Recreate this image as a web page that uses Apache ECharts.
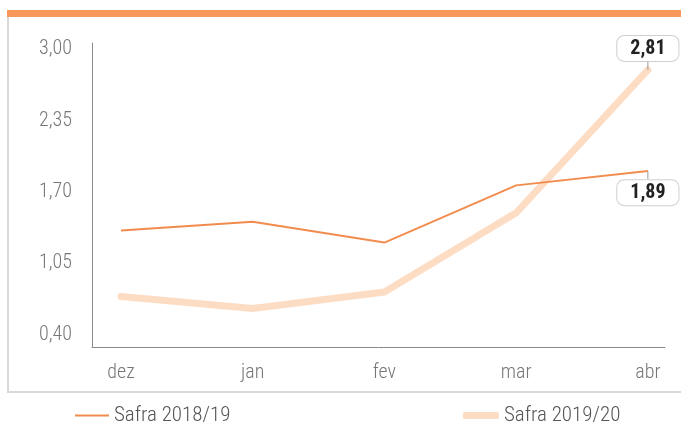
<!DOCTYPE html>
<html>
<head>
<meta charset="utf-8">
<script src="https://cdn.jsdelivr.net/npm/echarts@6/dist/echarts.min.js"></script>
<style>
html, body { margin: 0; padding: 0; background: #fff; }
#chart { width: 681px; height: 424px; }
</style>
</head>
<body>
<div id="chart"></div>
<script>
// dados do gráfico
var months = ['dez', 'jan', 'fev', 'mar', 'abr'];
var safra1819 = [1.35, 1.43, 1.24, 1.76, 1.89];
var safra1920 = [0.75, 0.64, 0.79, 1.51, 2.81];
var yTicks = [0.40, 1.05, 1.70, 2.35, 3.00];

var font = '"Roboto Condensed", "Liberation Sans Narrow", sans-serif';

function fmt(v) {
    return v.toFixed(2).replace('.', ',');
}

// último ponto leva a etiqueta com o valor
function buildData(values, pos) {
    return values.map(function (v, i) {
        if (i === values.length - 1) {
            return {
                value: [i, v],
                label: {
                    show: true,
                    position: pos,
                    distance: 0,
                    formatter: function (p) { return fmt(p.value[1]); },
                    color: '#222',
                    fontFamily: font,
                    fontWeight: 'bold',
                    fontSize: 20,
                    lineHeight: 20,
                    backgroundColor: '#fff',
                    borderColor: '#cfcfcf',
                    borderWidth: 1,
                    borderRadius: 7,
                    padding: [3, 13, 2, 13]
                }
            };
        }
        return [i, v];
    });
}

function moveLabel(dy) {
    return function (params) {
        return params.dataIndex === months.length - 1 ? { dy: dy } : {};
    };
}

var guide = { show: true, length2: 0, lineStyle: { color: '#999', width: 1 } };

var chart = echarts.init(document.getElementById('chart'));

var option = {
    animation: false,
    graphic: [
        {
            type: 'rect',
            shape: { x: 8, y: 12, width: 690, height: 380 },
            style: { fill: 'none', stroke: '#d9d9d9', lineWidth: 2 },
            z: -1
        },
        {
            type: 'rect',
            shape: { x: 7, y: 10, width: 674, height: 7 },
            style: { fill: '#f7975b' }
        }
    ],
    grid: { left: 92, right: 16, top: 43, bottom: 77 },
    legend: [
        {
            data: [{ name: 'Safra 2018/19', icon: 'rect' }],
            left: 70, top: 400,
            itemWidth: 34, itemHeight: 2, itemGap: 8,
            textStyle: { color: '#555', fontSize: 21, fontWeight: 300, fontFamily: font }
        },
        {
            data: [{ name: 'Safra 2019/20', icon: 'roundRect' }],
            left: 458, top: 400,
            itemWidth: 36, itemHeight: 7, itemGap: 9,
            textStyle: { color: '#555', fontSize: 21, fontWeight: 300, fontFamily: font }
        }
    ],
    xAxis: {
        type: 'value',
        min: -0.22,
        max: 4.13,
        splitLine: { show: false },
        axisTick: { show: false },
        axisLine: { show: true, onZero: false, lineStyle: { color: '#888', width: 1 } },
        axisLabel: {
            customValues: [0, 1, 2, 3, 4],
            formatter: function (v) { return months[Math.round(v)]; },
            color: '#777',
            fontSize: 20,
            fontWeight: 300,
            fontFamily: font,
            margin: 16
        }
    },
    yAxis: {
        type: 'value',
        min: 0.29,
        max: 3.055,
        splitLine: { show: false },
        axisTick: { show: false },
        axisLine: { show: true, onZero: false, lineStyle: { color: '#888', width: 1 } },
        axisLabel: {
            customValues: yTicks,
            formatter: fmt,
            color: '#777',
            fontSize: 20,
            fontWeight: 300,
            fontFamily: font,
            margin: 20
        }
    },
    series: [
        {
            name: 'Safra 2018/19',
            type: 'line',
            symbol: 'circle',
            symbolSize: 0.1,
            color: '#f28c4e',
            lineStyle: { color: '#f28c4e', width: 2 },
            labelLayout: moveLabel(9),
            labelLine: guide,
            data: buildData(safra1819, 'bottom'),
            z: 3
        },
        {
            name: 'Safra 2019/20',
            type: 'line',
            symbol: 'circle',
            symbolSize: 0.1,
            color: '#fddcc4',
            lineStyle: { color: '#fddcc4', width: 7, cap: 'round', join: 'round' },
            labelLayout: moveLabel(-9),
            labelLine: guide,
            data: buildData(safra1920, 'top'),
            z: 2
        }
    ]
};

chart.setOption(option);
</script>
</body>
</html>
